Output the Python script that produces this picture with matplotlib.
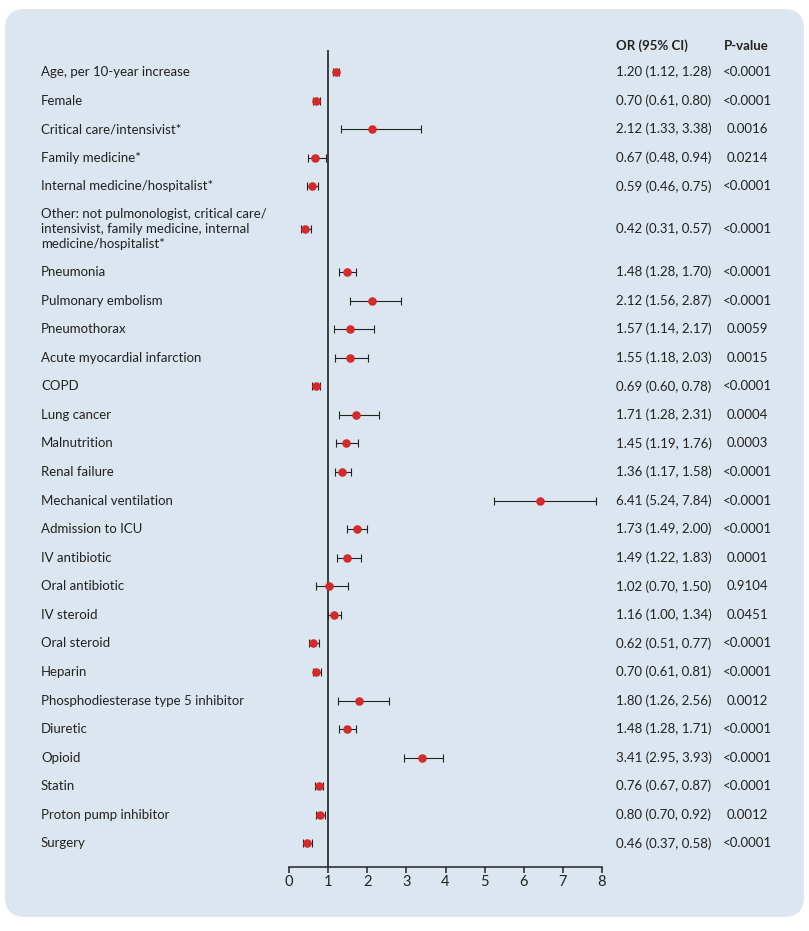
import matplotlib
matplotlib.use("Agg")
import matplotlib.pyplot as plt
from matplotlib.patches import FancyBboxPatch
from matplotlib.transforms import blended_transform_factory

labels = [
    "Age, per 10-year increase", "Female", "Critical care/intensivist*",
    "Family medicine*", "Internal medicine/hospitalist*",
    "Other: not pulmonologist, critical care/\nintensivist, family medicine, internal\nmedicine/hospitalist*",
    "Pneumonia", "Pulmonary embolism", "Pneumothorax", "Acute myocardial infarction",
    "COPD", "Lung cancer", "Malnutrition", "Renal failure", "Mechanical ventilation",
    "Admission to ICU", "IV antibiotic", "Oral antibiotic", "IV steroid", "Oral steroid",
    "Heparin", "Phosphodiesterase type 5 inhibitor", "Diuretic", "Opioid", "Statin",
    "Proton pump inhibitor", "Surgery",
]
or_vals = [1.20, 0.70, 2.12, 0.67, 0.59, 0.42, 1.48, 2.12, 1.57, 1.55, 0.69, 1.71, 1.45,
           1.36, 6.41, 1.73, 1.49, 1.02, 1.16, 0.62, 0.70, 1.80, 1.48, 3.41, 0.76, 0.80, 0.46]
ci_low = [1.12, 0.61, 1.33, 0.48, 0.46, 0.31, 1.28, 1.56, 1.14, 1.18, 0.60, 1.28, 1.19,
          1.17, 5.24, 1.49, 1.22, 0.70, 1.00, 0.51, 0.61, 1.26, 1.28, 2.95, 0.67, 0.70, 0.37]
ci_high = [1.28, 0.80, 3.38, 0.94, 0.75, 0.57, 1.70, 2.87, 2.17, 2.03, 0.78, 2.31, 1.76,
           1.58, 7.84, 2.00, 1.83, 1.50, 1.34, 0.77, 0.81, 2.56, 1.71, 3.93, 0.87, 0.92, 0.58]
p_values = ["<0.0001", "<0.0001", "0.0016", "0.0214", "<0.0001", "<0.0001", "<0.0001",
            "<0.0001", "0.0059", "0.0015", "<0.0001", "0.0004", "0.0003", "<0.0001",
            "<0.0001", "<0.0001", "0.0001", "0.9104", "0.0451", "<0.0001", "<0.0001",
            "0.0012", "<0.0001", "<0.0001", "<0.0001", "0.0012", "<0.0001"]
x_ticks = [0, 1, 2, 3, 4, 5, 6, 7, 8]

# row positions (the multi-line "Other" row takes extra space)
rows = []
pos = 0.0
for lab in labels:
    if "\n" in lab:
        pos += 0.5
        rows.append(pos)
        pos += 1.5
    else:
        rows.append(pos)
        pos += 1.0

W, H = 809, 931
bg = "#dce6f0"
txt = "#222222"
plt.rcParams['font.family'] = ['Lato', 'DejaVu Sans']

fig = plt.figure(figsize=(W / 100, H / 100), dpi=100)
fig.patch.set_facecolor("white")

bgax = fig.add_axes([0, 0, 1, 1], zorder=-10)
bgax.set_xlim(0, W)
bgax.set_ylim(0, H)
bgax.axis("off")
bgax.add_patch(FancyBboxPatch((5, 14), 799, 908,
                              boxstyle="round,pad=0,rounding_size=20",
                              facecolor=bg, edgecolor="none"))

ax = fig.add_axes([289 / W, 1 - 866.5 / H, (602 - 289) / W, (866.5 - 50) / H], zorder=1)
ax.set_facecolor("none")
ax.set_xlim(0, 8)
ax.set_ylim(27.81, -0.77)
for s in ["top", "right", "left"]:
    ax.spines[s].set_visible(False)
ax.spines["bottom"].set_color(txt)
ax.spines["bottom"].set_linewidth(1.1)
ax.set_yticks([])
ax.set_xticks(x_ticks)
ax.tick_params(axis="x", direction="out", length=4, width=1.1, color=txt,
               labelsize=10.5, labelcolor=txt, pad=2)
ax.axvline(1, color=txt, lw=1.2, zorder=1)

xerr = [[o - l for o, l in zip(or_vals, ci_low)], [h - o for o, h in zip(or_vals, ci_high)]]
ax.errorbar(or_vals, rows, xerr=xerr, fmt="none", ecolor=txt, elinewidth=0.8,
            capsize=3, capthick=0.8, zorder=2)
ax.scatter(or_vals, rows, s=38, color="#d42a2a", zorder=3, linewidths=0)

tr = blended_transform_factory(fig.transFigure, ax.transData)
for lab, r, o, l, h, p in zip(labels, rows, or_vals, ci_low, ci_high, p_values):
    ax.text(41 / W, r, lab, transform=tr, ha="left", va="center", fontsize=9.5,
            color=txt, linespacing=1.3, clip_on=False)
    ax.text(616 / W, r, f"{o:.2f} ({l:.2f}, {h:.2f})", transform=tr, ha="left",
            va="center", fontsize=9.5, color=txt, clip_on=False)
    ax.text(747 / W, r, p, transform=tr, ha="center", va="center", fontsize=9.5,
            color=txt, clip_on=False)

fig.text(616 / W, 1 - 46 / H, "OR (95% CI)", ha="left", va="center", fontsize=9.5,
         color=txt, fontweight="bold")
fig.text(746 / W, 1 - 46 / H, "P-value", ha="center", va="center", fontsize=9.5,
         color=txt, fontweight="bold")

fig.savefig("out.png", dpi=100, facecolor="white")
